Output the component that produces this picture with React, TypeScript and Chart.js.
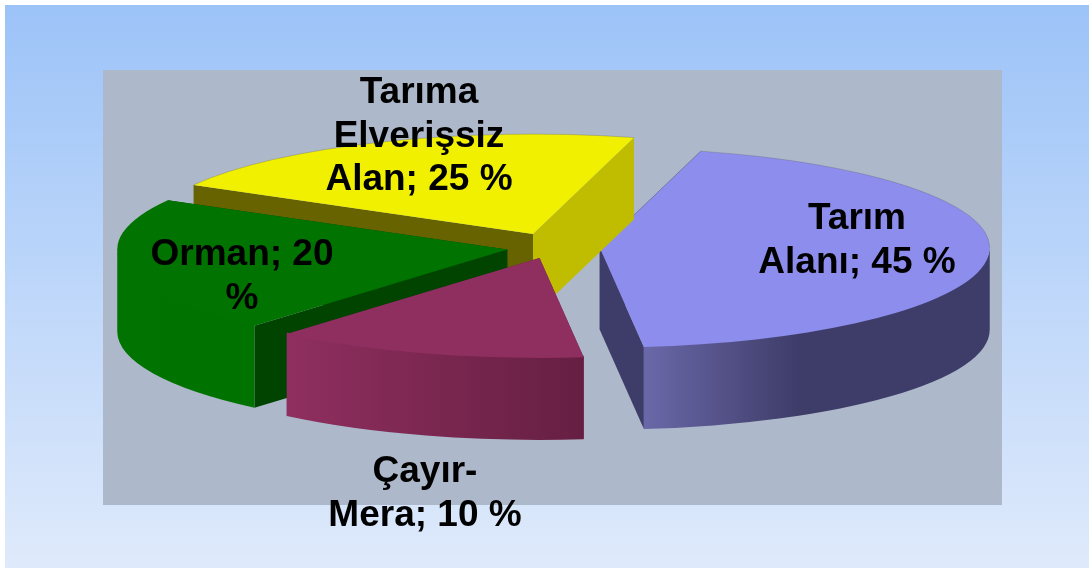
import React, { useEffect, useRef } from "react";
import { Chart, registerables } from "chart.js";

Chart.register(...registerables);

// ---- data ----
const categories = ["Tarım Alanı", "Çayır-Mera", "Orman", "Tarıma Elverişsiz Alan"];
const shares = [45, 10, 20, 25];
const labelLines = [
  ["Tarım", "Alanı; 45 %"],
  ["Çayır-", "Mera; 10 %"],
  ["Orman; 20", "%"],
  ["Tarıma", "Elverişsiz", "Alan; 25 %"],
];

// ---- style ----
const explode = [47, 52, 49, 40];
const lift = [1.5, 0, 0, -2];
const topColors = ["#8d8dee", "#8f2f5f", "#007300", "#f0f000"];
const startFaceColors = ["#3e3c68", "#661f42", "#004400", "#666300"];
const endFaceColors = ["#3e3c68", "#661f42", "#004400", "#c0bc00"];
const wallStops: [number, string][][] = [
  [[0, "#6a68a8"], [0.45, "#3e3c68"], [1, "#3e3c68"]],
  [[0, "#8f2f5f"], [1, "#661f42"]],
  [[0, "#007300"], [1, "#007200"]],
  [[0, "#c0bc00"], [1, "#c0bc00"]],
];
const backEdge = [true, false, false, false];
const labelAnchors = [
  { x: 857, y: 219 },
  { x: 425, y: 472 },
  { x: 242, y: 255 },
  { x: 419, y: 93 },
];
const LINE_HEIGHT = 43.5;
const FONT = 'bold 37px "Liberation Sans", Arial, sans-serif';
const DRAW_ORDER = [0, 3, 2, 1];
const ROTATION = 15;
const RADIUS = 390;
const SQUASH = 100 / 390;
const DEPTH = 82;
const SEAM_OVERLAP = 1.5;
// view-perspective correction: angle on the disc -> angle on the drawn ellipse (degrees from top)
const viewWarp: [number, number][] = [[15, 15], [177, 173.5], [213, 220.4], [285, 299.5], [375, 375]];

function warp(deg: number) {
  for (let i = 1; i < viewWarp.length; i++) {
    const [a0, b0] = viewWarp[i - 1];
    const [a1, b1] = viewWarp[i];
    if (deg <= a1 + 1e-6) return b0 + ((deg - a0) / (a1 - a0)) * (b1 - b0);
  }
  return deg;
}

function toEllipseAngle(rad: number) {
  let top = (rad * 180) / Math.PI + 90;
  while (top < ROTATION - 1e-6) top += 360;
  while (top > ROTATION + 360 + 1e-6) top -= 360;
  return ((warp(top) - 90) * Math.PI) / 180;
}

const pie3d = {
  id: "pie3d",
  beforeDraw(chart: any) {
    const { ctx } = chart;
    ctx.save();
    ctx.fillStyle = "#ffffff";
    ctx.fillRect(0, 0, 1089, 568);
    const g = ctx.createLinearGradient(0, 5, 0, 568);
    g.addColorStop(0, "#9cc3f8");
    g.addColorStop(1, "#dfeafb");
    ctx.fillStyle = g;
    ctx.fillRect(5, 5, 1084, 563);
    ctx.fillStyle = "#adb9cb";
    ctx.fillRect(103, 70, 899, 435);
    ctx.restore();
  },
  beforeDatasetsDraw(chart: any) {
    const { ctx } = chart;
    const arcs = chart.getDatasetMeta(0).data;
    const cy0 = arcs[0].y;
    for (const i of DRAW_ORDER) {
      const el = arcs[i];
      const half = (el.startAngle + el.endAngle) / 2;
      const off = explode[i];
      const ax = el.x + Math.cos(half) * off;
      const ay = cy0 + Math.sin(half) * off * SQUASH + lift[i];
      const rx = el.outerRadius;
      const ry = rx * SQUASH;
      const s = toEllipseAngle(el.startAngle);
      const e = toEllipseAngle(el.endAngle - 1e-6);
      const pt = (a: number, dz = 0) => [ax + rx * Math.cos(a), ay + ry * Math.sin(a) + dz];

      const face = (a: number, color: string) => {
        const [px, py] = pt(a);
        ctx.beginPath();
        ctx.moveTo(ax, ay);
        ctx.lineTo(px, py);
        ctx.lineTo(px, py + DEPTH);
        ctx.lineTo(ax, ay + DEPTH);
        ctx.closePath();
        ctx.fillStyle = color;
        ctx.fill();
      };
      ctx.save();
      face(s, startFaceColors[i]);
      face(e, endFaceColors[i]);

      // rim: the front half of the ellipse only
      const a0 = Math.max(s, 0);
      const a1 = Math.min(e, Math.PI);
      if (a1 > a0) {
        const x0 = pt(a0)[0];
        const x1 = pt(a1)[0];
        const grad = ctx.createLinearGradient(Math.min(x0, x1), 0, Math.max(x0, x1), 0);
        wallStops[i].forEach(([o, c]) => grad.addColorStop(o, c));
        ctx.beginPath();
        ctx.ellipse(ax, ay - SEAM_OVERLAP, rx, ry, 0, a0, a1);
        ctx.ellipse(ax, ay + DEPTH, rx, ry, 0, a1, a0, true);
        ctx.closePath();
        ctx.fillStyle = grad;
        ctx.fill();
      }

      // top
      ctx.beginPath();
      ctx.moveTo(ax, ay);
      ctx.ellipse(ax, ay, rx, ry, 0, s, e);
      ctx.closePath();
      ctx.fillStyle = topColors[i];
      ctx.fill();

      // faint hairline along the back of the disc
      ctx.strokeStyle = "rgba(100,100,110,0.45)";
      ctx.lineWidth = 0.75;
      if (i === 3) {
        ctx.beginPath();
        ctx.ellipse(ax, ay, rx, ry, 0, s, e);
        ctx.stroke();
      }
      if (backEdge[i]) {
        const [px, py] = pt(s);
        ctx.beginPath();
        ctx.moveTo(ax, ay);
        ctx.lineTo(px, py);
        ctx.ellipse(ax, ay, rx, ry, 0, s, 0);
        ctx.stroke();
      }
      ctx.restore();
    }
    return false;
  },
  afterDraw(chart: any) {
    const { ctx } = chart;
    ctx.save();
    ctx.font = FONT;
    ctx.fillStyle = "#000000";
    ctx.textAlign = "center";
    ctx.textBaseline = "middle";
    labelLines.forEach((lines, i) => {
      lines.forEach((line, j) => {
        ctx.fillText(line, labelAnchors[i].x, labelAnchors[i].y + j * LINE_HEIGHT);
      });
    });
    ctx.restore();
  },
};

export default function App() {
  const ref = useRef<HTMLCanvasElement>(null);
  useEffect(() => {
    if (!ref.current) return;
    const chart = new Chart(ref.current, {
      type: "pie",
      data: {
        labels: categories,
        datasets: [{ data: shares, backgroundColor: topColors, borderWidth: 0 }],
      },
      options: {
        animation: false,
        responsive: false,
        rotation: ROTATION,
        radius: RADIUS,
        layout: { padding: { left: 17, bottom: 78 } },
        plugins: { legend: { display: false }, tooltip: { enabled: false } },
      } as any,
      plugins: [pie3d as any],
    });
    return () => chart.destroy();
  }, []);
  return (
    <div style={{ position: "absolute", left: 0, top: 0, width: 1089, height: 568 }}>
      <canvas ref={ref} width={1089} height={568} style={{ display: "block" }} />
    </div>
  );
}
